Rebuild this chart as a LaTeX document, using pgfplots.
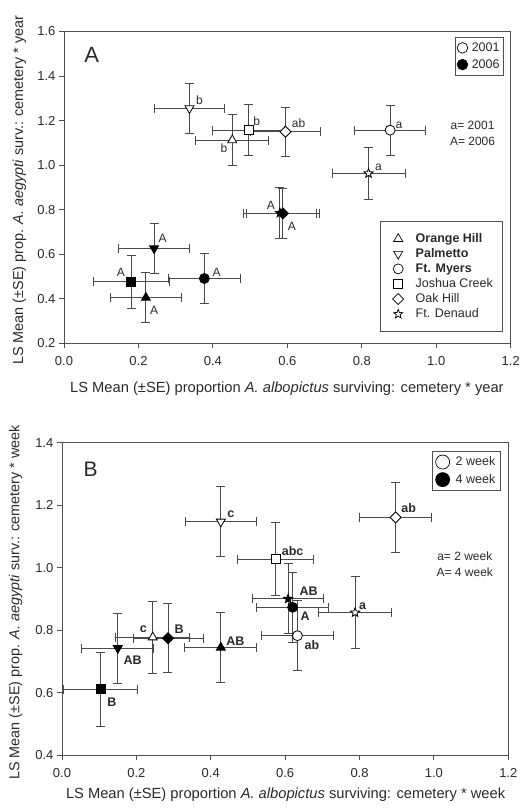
\documentclass[border=0pt]{standalone}
\usepackage{fontspec}
\setmainfont{Liberation Sans}
\usepackage{pgfplots}
\pgfplotsset{compat=1.18}
\definecolor{axc}{HTML}{505050}
\definecolor{ebc}{HTML}{4A4A4A}
\definecolor{txc}{HTML}{2A2A2A}
\pgfdeclareplotmark{fivestar}{%
  \pgfpathmoveto{\pgfpointpolar{90}{\pgfplotmarksize}}%
  \pgfpathlineto{\pgfpointpolar{126}{0.42\pgfplotmarksize}}%
  \pgfpathlineto{\pgfpointpolar{162}{\pgfplotmarksize}}%
  \pgfpathlineto{\pgfpointpolar{198}{0.42\pgfplotmarksize}}%
  \pgfpathlineto{\pgfpointpolar{234}{\pgfplotmarksize}}%
  \pgfpathlineto{\pgfpointpolar{270}{0.42\pgfplotmarksize}}%
  \pgfpathlineto{\pgfpointpolar{306}{\pgfplotmarksize}}%
  \pgfpathlineto{\pgfpointpolar{342}{0.42\pgfplotmarksize}}%
  \pgfpathlineto{\pgfpointpolar{18}{\pgfplotmarksize}}%
  \pgfpathlineto{\pgfpointpolar{54}{0.42\pgfplotmarksize}}%
  \pgfpathclose
  \pgfusepathqfillstroke
}
\tikzset{
  lab/.style={font=\fontsize{12}{14}\selectfont, text=txc},
  blab/.style={font=\fontsize{12.5}{14}\selectfont\bfseries, text=txc},
  axlab/.style={font=\fontsize{14.7}{16}\selectfont, text=txc},
  aylab/.style={font=\fontsize{14.4}{16}\selectfont, text=txc},
}
\pgfplotsset{
  eb/.style={error bars/x dir=both, error bars/x explicit,
    error bars/y dir=both, error bars/y explicit,
    error bars/error bar style={line width=0.9pt, color=ebc},
    error bars/error mark options={rotate=90, line width=0.9pt, color=ebc, mark size=4.5pt}},
  pt/.style={only marks, forget plot, eb},
  tri/.style={mark=triangle*, mark size=5.2pt, mark options={draw=black, fill=#1, line width=0.8pt}},
  dtri/.style={mark=triangle*, mark size=5.2pt, mark options={draw=black, fill=#1, line width=0.8pt, rotate=180}},
  circ/.style={mark=*, mark size=5pt, mark options={draw=black, fill=#1, line width=0.8pt}},
  sq/.style={mark=square*, mark size=4.5pt, mark options={draw=black, fill=#1, line width=0.8pt}},
  dia/.style={mark=square*, mark size=3.9pt, mark options={draw=black, fill=#1, line width=0.8pt, rotate=45}},
  sta/.style={mark=fivestar, mark size=4.8pt, mark options={draw=black, fill=#1, line width=0.8pt}},
  myax/.style={scale only axis, xmin=0, xmax=1.2,
    xtick={0,0.2,0.4,0.6,0.8,1.0,1.2},
    tick pos=left, tick align=outside, major tick length=5pt,
    axis line style={draw=axc, line width=0.9pt},
    every tick/.style={draw=axc, line width=0.9pt},
    tick label style={font=\fontsize{13}{15}\selectfont, text=txc},
    xticklabel style={yshift=-5pt},
    /pgf/number format/fixed, /pgf/number format/fixed zerofill,
    /pgf/number format/precision=1, /pgf/number format/assume math mode=true,
    clip=false},
}
\begin{document}
\begin{tikzpicture}
\useasboundingbox (0,0) rectangle (521pt,-808pt);
% ---------------- Panel A ----------------
\begin{axis}[myax, at={(64pt,-343.3pt)}, anchor=south west,
  width=446.7pt, height=311.8pt, ymin=0.2, ymax=1.6,
  ytick={0.2,0.4,0.6,0.8,1.0,1.2,1.4,1.6},
  xlabel={LS Mean (±SE) proportion \textit{A. albopictus} surviving: cemetery * year},
  ylabel={LS Mean (±SE) prop. \textit{A. aegypti} surv.: cemetery * year},
  every axis x label/.style={axlab, at={(axis description cs:0.499,-0.1466)}, anchor=center},
  every axis y label/.style={aylab, at={(axis description cs:-0.100,-0.0696)}, rotate=90, anchor=west, inner sep=0pt}]
% 2001 (open)
\addplot[pt, dtri=white] coordinates {(0.337,1.255) +- (0.095,0.112)};
\addplot[pt, tri=white]  coordinates {(0.452,1.112) +- (0.098,0.115)};
\addplot[pt, sq=white]   coordinates {(0.496,1.157) +- (0.097,0.115)};
\addplot[pt, dia=white]  coordinates {(0.595,1.150) +- (0.093,0.110)};
\addplot[pt, circ=white] coordinates {(0.876,1.157) +- (0.096,0.112)};
\addplot[pt, sta=white]  coordinates {(0.818,0.963) +- (0.098,0.115)};
% 2006 (filled)
\addplot[pt, sta=black]  coordinates {(0.580,0.785) +- (0.098,0.113)};
\addplot[pt, dia=black]  coordinates {(0.588,0.783) +- (0.098,0.113)};
\addplot[pt, dtri=black] coordinates {(0.242,0.626) +- (0.096,0.112)};
\addplot[pt, sq=black]   coordinates {(0.180,0.476) +- (0.102,0.120)};
\addplot[pt, tri=black]  coordinates {(0.220,0.405) +- (0.096,0.113)};
\addplot[pt, circ=black] coordinates {(0.377,0.491) +- (0.096,0.112)};
% letters
\node[lab] at (axis cs:0.364,1.292) {b};
\node[lab] at (axis cs:0.430,1.075) {b};
\node[lab] at (axis cs:0.518,1.195) {b};
\node[lab] at (axis cs:0.630,1.187) {ab};
\node[lab] at (axis cs:0.900,1.177) {a};
\node[lab] at (axis cs:0.845,0.988) {a};
\node[lab] at (axis cs:0.556,0.820) {A};
\node[lab] at (axis cs:0.612,0.726) {A};
\node[lab] at (axis cs:0.265,0.671) {A};
\node[lab] at (axis cs:0.153,0.520) {A};
\node[lab] at (axis cs:0.242,0.348) {A};
\node[lab] at (axis cs:0.410,0.520) {A};
\node[font=\fontsize{22}{24}\selectfont, text=txc] at (axis cs:0.0745,1.494) {A};
\node[lab] at (axis cs:1.0976,1.177) {a= 2001};
\node[lab] at (axis cs:1.0976,1.106) {A= 2006};
\end{axis}
% legend: sites
\begin{axis}[at={(64pt,-343.3pt)}, anchor=south west, scale only axis,
  width=446.7pt, height=311.8pt, hide axis, xmin=0, xmax=1, ymin=0, ymax=1,
  legend style={at={(0.9834,0.392)}, anchor=north east, draw=axc, line width=0.9pt,
    font=\fontsize{12.5}{14}\selectfont, text=txc, inner xsep=8pt, inner ysep=10pt,
    row sep=0.6pt, /tikz/every odd column/.append style={column sep=10pt}},
  legend cell align=left,
  legend image code/.code={\path (-9pt,0pt); \draw[#1] plot coordinates {(0pt,0pt)};}]
\addlegendimage{only marks, mark=triangle*, mark size=5.2pt, mark options={draw=black, fill=white, line width=0.7pt}}
\addlegendentry{\textbf{Orange Hill}}
\addlegendimage{only marks, mark=triangle*, mark size=5.2pt, mark options={draw=black, fill=white, line width=0.7pt, rotate=180}}
\addlegendentry{\textbf{Palmetto}}
\addlegendimage{only marks, mark=*, mark size=5pt, mark options={draw=black, fill=white, line width=0.7pt}}
\addlegendentry{\textbf{Ft. Myers}}
\addlegendimage{only marks, mark=square*, mark size=4.5pt, mark options={draw=black, fill=white, line width=0.7pt}}
\addlegendentry{Joshua Creek}
\addlegendimage{only marks, mark=square*, mark size=3.9pt, mark options={draw=black, fill=white, line width=0.7pt, rotate=45}}
\addlegendentry{Oak Hill}
\addlegendimage{only marks, mark=fivestar, mark size=4.8pt, mark options={draw=black, fill=white, line width=0.7pt}}
\addlegendentry{Ft. Denaud}
\end{axis}
% legend: years
\begin{axis}[at={(64pt,-343.3pt)}, anchor=south west, scale only axis,
  width=446.7pt, height=311.8pt, hide axis, xmin=0, xmax=1, ymin=0, ymax=1,
  legend style={at={(0.985,0.983)}, anchor=north east, draw=axc, line width=0.9pt,
    font=\fontsize{12.5}{14}\selectfont, text=txc, inner xsep=2pt, inner ysep=3.5pt,
    row sep=2.5pt, /tikz/every odd column/.append style={column sep=2pt}},
  legend cell align=left,
  legend image code/.code={\draw[#1] plot coordinates {(0pt,0pt)};}]
\addlegendimage{only marks, mark=*, mark size=5.3pt, mark options={draw=black, fill=white, line width=0.7pt}}
\addlegendentry{2001}
\addlegendimage{only marks, mark=*, mark size=5.3pt, mark options={draw=black, fill=black, line width=0.7pt}}
\addlegendentry{2006}
\end{axis}
% ---------------- Panel B ----------------
\begin{axis}[myax, at={(62pt,-755pt)}, anchor=south west,
  width=446.3pt, height=312.3pt, ymin=0.4, ymax=1.4,
  ytick={0.4,0.6,0.8,1.0,1.2,1.4},
  xlabel={LS Mean (±SE) proportion \textit{A. albopictus} surviving: cemetery * week},
  ylabel={LS Mean (±SE) prop. \textit{A. aegypti} surv.: cemetery * week},
  every axis x label/.style={axlab, at={(axis description cs:0.501,-0.126)}, anchor=center},
  every axis y label/.style={aylab, at={(axis description cs:-0.104,-0.080)}, rotate=90, anchor=west, inner sep=0pt}]
% 2 week (open)
\addplot[pt, dtri=white] coordinates {(0.427,1.147) +- (0.096,0.112)};
\addplot[pt, dia=white]  coordinates {(0.897,1.161) +- (0.097,0.112)};
\addplot[pt, sq=white]   coordinates {(0.574,1.027) +- (0.101,0.117)};
\addplot[pt, sta=white]  coordinates {(0.788,0.856) +- (0.098,0.115)};
\addplot[pt, circ=white] coordinates {(0.633,0.782) +- (0.097,0.112)};
\addplot[pt, tri=white]  coordinates {(0.244,0.777) +- (0.099,0.115)};
% 4 week (filled)
\addplot[pt, sta=black]  coordinates {(0.608,0.900) +- (0.096,0.112)};
\addplot[pt, circ=black] coordinates {(0.620,0.873) +- (0.096,0.112)};
\addplot[pt, dia=black]  coordinates {(0.285,0.774) +- (0.094,0.110)};
\addplot[pt, dtri=black] coordinates {(0.150,0.742) +- (0.097,0.112)};
\addplot[pt, tri=black]  coordinates {(0.427,0.744) +- (0.097,0.113)};
\addplot[pt, sq=black]   coordinates {(0.104,0.611) +- (0.100,0.118)};
% letters
\node[blab] at (axis cs:0.454,1.171) {c};
\node[blab] at (axis cs:0.932,1.190) {ab};
\node[blab] at (axis cs:0.620,1.054) {abc};
\node[blab] at (axis cs:0.663,0.926) {AB};
\node[blab] at (axis cs:0.808,0.875) {a};
\node[blab] at (axis cs:0.654,0.845) {A};
\node[blab] at (axis cs:0.672,0.752) {ab};
\node[blab] at (axis cs:0.219,0.802) {c};
\node[blab] at (axis cs:0.315,0.802) {B};
\node[blab] at (axis cs:0.466,0.766) {AB};
\node[blab] at (axis cs:0.190,0.702) {AB};
\node[blab] at (axis cs:0.134,0.569) {B};
\node[font=\fontsize{21}{24}\selectfont, text=txc] at (axis cs:0.077,1.315) {B};
\node[lab] at (axis cs:1.083,1.036) {a= 2 week};
\node[lab] at (axis cs:1.083,0.984) {A= 4 week};
\end{axis}
% legend: weeks
\begin{axis}[at={(62pt,-755pt)}, anchor=south west, scale only axis,
  width=446.3pt, height=312.3pt, hide axis, xmin=0, xmax=1, ymin=0, ymax=1,
  legend style={at={(0.983,0.974)}, anchor=north east, draw=axc, line width=0.9pt,
    font=\fontsize{12.5}{14}\selectfont, text=txc, inner xsep=3pt, inner ysep=3.5pt,
    row sep=3pt, /tikz/every odd column/.append style={column sep=4pt}},
  legend cell align=left,
  legend image code/.code={\draw[#1] plot coordinates {(0pt,0pt)};}]
\addlegendimage{only marks, mark=*, mark size=7pt, mark options={draw=black, fill=white, line width=0.7pt}}
\addlegendentry{2 week}
\addlegendimage{only marks, mark=*, mark size=7pt, mark options={draw=black, fill=black, line width=0.7pt}}
\addlegendentry{4 week}
\end{axis}
\end{tikzpicture}
\end{document}
